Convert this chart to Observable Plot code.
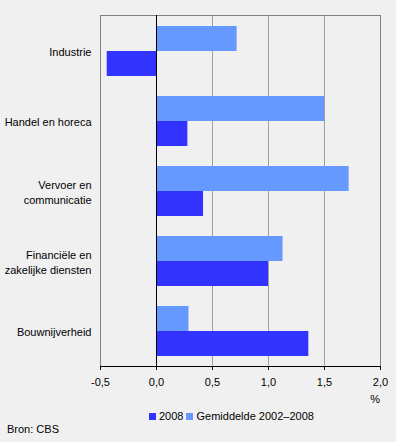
<!DOCTYPE html>
<html>
<head>
<meta charset="utf-8">
<script src="https://cdn.jsdelivr.net/npm/d3@7"></script>
<script src="https://cdn.jsdelivr.net/npm/@observablehq/plot@0.6"></script>
<style>
  html, body { margin: 0; padding: 0; background: #f0f0f0; }
  body { width: 396px; height: 442px; position: relative; overflow: hidden;
         font-family: "Liberation Sans", Arial, sans-serif; font-size: 11px; color: #000; }
  #chart { position: absolute; left: 0; top: 0; }
  .legend { position: absolute; top: 409px; left: 149px; display: flex; align-items: center; white-space: nowrap; line-height: 14px; }
  .sw { display: inline-block; width: 7px; height: 7px; margin-right: 3px; }
  .item { display: flex; align-items: center; margin-right: 3px; }
  .source { position: absolute; left: 7px; top: 422px; line-height: 14px; }
  .unit { position: absolute; right: 16px; top: 392px; line-height: 14px; }
</style>
</head>
<body>
<div id="chart"></div>
<div class="unit" id="unit"></div>
<div class="legend" id="legend"></div>
<div class="source">Bron: CBS</div>
<script>
const categories = ["Industrie", "Handel en horeca", "Vervoer en communicatie", "Financiële en zakelijke diensten", "Bouwnijverheid"];
const categoryLabels = ["Industrie", "Handel en horeca", "Vervoer en\ncommunicatie", "Financiële en\nzakelijke diensten", "Bouwnijverheid"];
const values2008 = [-0.44, 0.28, 0.42, 1.0, 1.36];
const valuesAvg = [0.72, 1.5, 1.72, 1.13, 0.29];
const seriesNames = ["2008", "Gemiddelde 2002–2008"];
const seriesColors = ["#3333ff", "#6699ff"];
const xTicks = [-0.5, 0, 0.5, 1, 1.5, 2];
const xUnit = "%";

const data2008 = categories.map((c, i) => ({category: c, value: values2008[i]}));
const dataAvg = categories.map((c, i) => ({category: c, value: valuesAvg[i]}));
const labelData = categories.map((c, i) => ({category: c, label: categoryLabels[i]}));

const fmt = d => d.toFixed(1).replace(".", ",");

const chart = Plot.plot({
  width: 396,
  height: 405,
  marginLeft: 100,
  marginRight: 16,
  marginTop: 15,
  marginBottom: 39,
  style: {background: "transparent", fontFamily: "'Liberation Sans', Arial, sans-serif", fontSize: "11px", color: "#000"},
  x: {domain: [-0.5, 2], ticks: xTicks, tickFormat: fmt, label: null},
  y: {domain: categories, paddingInner: 0.288, paddingOuter: 0.144, axis: null},
  marks: [
    Plot.gridX(xTicks.filter(t => t > 0 && t < 2), {stroke: "#a0a0a0", strokeOpacity: 1}),
    Plot.frame({stroke: "#808080"}),
    Plot.barX(dataAvg, {x: "value", y: "category", fill: seriesColors[1], insetBottom: 25}),
    Plot.barX(data2008, {x: "value", y: "category", fill: seriesColors[0], insetTop: 25}),
    Plot.ruleX([0], {stroke: "#000"}),
    Plot.frame({anchor: "bottom", stroke: "#000"}),
    Plot.axisX(xTicks, {tickSize: 4, tickPadding: 8, tickFormat: fmt, label: null, fill: "#000", stroke: "#000"}),
    Plot.text(labelData, {y: "category", text: "label", frameAnchor: "left", dx: -9, textAnchor: "end", lineHeight: 1.36, fill: "#000", fontSize: 11})
  ]
});
document.getElementById("chart").appendChild(chart);
document.getElementById("unit").textContent = xUnit;

const legend = document.getElementById("legend");
seriesNames.forEach((name, i) => {
  const item = document.createElement("span");
  item.className = "item";
  const sw = document.createElement("span");
  sw.className = "sw";
  sw.style.background = seriesColors[i];
  item.appendChild(sw);
  item.appendChild(document.createTextNode(name));
  legend.appendChild(item);
});
</script>
</body>
</html>
